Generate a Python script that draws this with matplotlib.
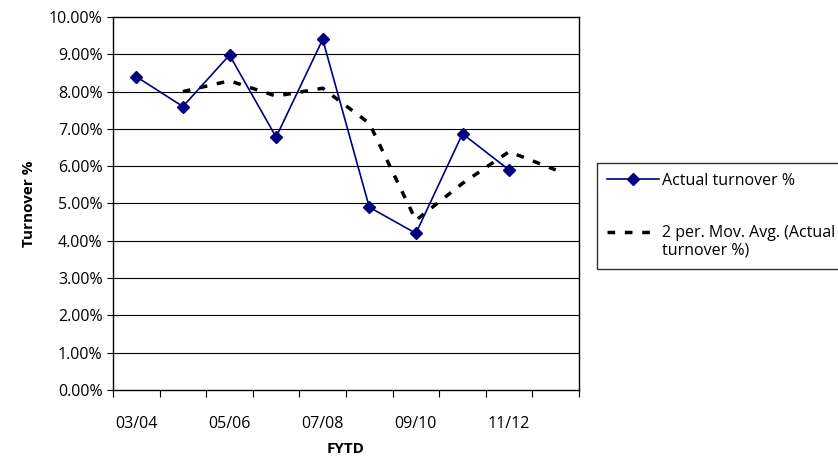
import matplotlib.pyplot as plt
from matplotlib.lines import Line2D
from matplotlib.ticker import FixedLocator, FuncFormatter

plt.rcParams['font.family'] = ['Open Sans', 'DejaVu Sans']

years = ["03/04", "04/05", "05/06", "06/07", "07/08", "08/09", "09/10", "10/11", "11/12", "12/13"]
actual = [8.40, 7.60, 8.98, 6.78, 9.40, 4.90, 4.20, 6.87, 5.90, None]
mov_avg = [None, 8.00, 8.29, 7.88, 8.09, 7.15, 4.55, 5.54, 6.39, 5.90]
shown_labels = ["03/04", "05/06", "07/08", "09/10", "11/12"]

fig = plt.figure(figsize=(8.38, 4.62), dpi=100)
ax = fig.add_axes([113/838, 1-390/462, (579-113)/838, (390-17)/462])

xs = list(range(len(years)))
ax_x = [x for x, v in zip(xs, actual) if v is not None]
ax_y = [v for v in actual if v is not None]
ma_x = [x for x, v in zip(xs, mov_avg) if v is not None]
ma_y = [v for v in mov_avg if v is not None]

for y in range(1, 10):
    ax.axhline(y, color="black", linewidth=0.8, zorder=1)

l1, = ax.plot(ax_x, ax_y, color="#000080", linewidth=1.2, marker="D", markersize=6,
              zorder=3)
l2, = ax.plot(ma_x, ma_y, color="black", linewidth=2.5, linestyle=(0, (2.2, 2.8)),
              zorder=2)

ax.set_xlim(-0.5, len(years) - 0.5)
ax.set_ylim(0, 10)
ax.set_yticks(range(0, 11))
ax.yaxis.set_major_formatter(FuncFormatter(lambda v, p: f"{v:.2f}%"))
ax.tick_params(axis="y", length=4, labelsize=11.5, colors="black")

ax.xaxis.set_major_locator(FixedLocator([x - 0.5 for x in range(len(years) + 1)]))
ax.xaxis.set_major_formatter(FuncFormatter(lambda v, p: ""))
ax.xaxis.set_minor_locator(FixedLocator([years.index(s) for s in shown_labels]))
ax.set_xticklabels(shown_labels, minor=True)
ax.tick_params(axis="x", which="major", length=5, direction="out")
ax.tick_params(axis="x", which="minor", length=0, pad=19, labelsize=11.5)

for s in ax.spines.values():
    s.set_linewidth(1.0)
    s.set_color("black")

ax.set_ylabel("Turnover %", fontsize=11, fontweight="bold", labelpad=9)
ax.set_xlabel("FYTD", fontsize=11, fontweight="bold", labelpad=7)

# legend: wrapped second label drawn as its own row so the dashes sit on the first line
blank = Line2D([], [], color="none")
handles = [l1, blank, blank, l2, blank]
labels = ["Actual turnover %", " ", " ", "2 per. Mov. Avg. (Actual", "turnover %)"]
leg = fig.legend(handles, labels, loc="upper left",
                 bbox_to_anchor=(597/838, 0, 360/838, 1-163/462), mode="expand",
                 frameon=True, fancybox=False, fontsize=11.5, labelspacing=0.1,
                 handlelength=3.3, handletextpad=0.15, borderpad=0.6, borderaxespad=0)
leg.get_frame().set_edgecolor("black")
leg.get_frame().set_linewidth(1.0)

fig.savefig("out.png", dpi=100)
